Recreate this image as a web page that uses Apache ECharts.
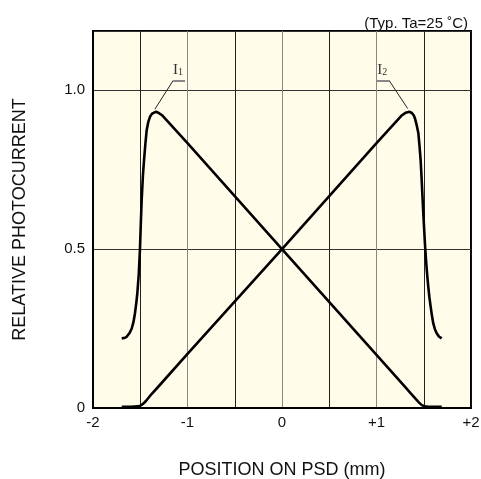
<!DOCTYPE html>
<html>
<head>
<meta charset="utf-8">
<script src="https://cdn.jsdelivr.net/npm/echarts@6/dist/echarts.min.js"></script>
<style>
html,body{margin:0;padding:0;background:#fff;}
#c{width:481px;height:479px;}
</style>
</head>
<body>
<div id="c"></div>
<script>
// ---- data ----
var xTickLabels = {'-2':'-2','-1':'-1','0':'0','1':'+1','2':'+2'};
var yTickLabels = {'0':'0','0.5':'0.5','1':'1.0'};

var i1X = [-1.696,-1.67,-1.644,-1.615,-1.59,-1.572,-1.556,-1.542,-1.531,-1.516,-1.503,-1.494,-1.485,-1.472,-1.46,-1.446,-1.432,-1.415,-1.397,-1.375,-1.355,-1.333,-1.31,-1.27,-1.0,0,1.0,1.3,1.36,1.41,1.45,1.48,1.51,1.55,1.69];
var i1Y = [0.219,0.220,0.224,0.235,0.25,0.27,0.298,0.33,0.361,0.42,0.5,0.58,0.654,0.73,0.78,0.83,0.874,0.90,0.916,0.926,0.931,0.932,0.929,0.921,0.833,0.5,0.167,0.067,0.047,0.03,0.017,0.009,0.005,0.004,0.004];

var i2X = [-1.696,-1.6,-1.53,-1.5,-1.47,-1.44,-1.41,-1.38,-1.3,-1.0,0,1.0,1.27,1.31,1.347,1.375,1.395,1.407,1.425,1.443,1.455,1.467,1.476,1.485,1.494,1.503,1.513,1.524,1.536,1.548,1.56,1.573,1.587,1.601,1.618,1.637,1.66,1.69];
var i2Y = [0.004,0.004,0.005,0.007,0.013,0.022,0.033,0.044,0.07,0.17,0.5,0.833,0.921,0.929,0.932,0.928,0.92,0.911,0.89,0.864,0.825,0.78,0.73,0.675,0.62,0.57,0.515,0.465,0.42,0.381,0.348,0.319,0.29,0.266,0.248,0.235,0.225,0.219];

// annotation positions (data units)
var labelI1 = [-1.10, 1.063];
var labelI2 = [1.061, 1.063];
var underlineI1 = [[-1.150, 1.031], [-1.026, 1.031]];
var underlineI2 = [[0.995, 1.031], [1.132, 1.031]];
var arrowI1 = [[-1.150, 1.031], [-1.345, 0.94]];
var arrowI2 = [[1.132, 1.031], [1.33, 0.942]];

function zip(xs, ys){ return xs.map(function(x,i){ return [x, ys[i]]; }); }

var chart = echarts.init(document.getElementById('c'), null, {renderer:'canvas'});
var font = 'Liberation Sans, Arial, Helvetica, sans-serif';
var serif = 'Liberation Serif, Times New Roman, serif';

function annot(pos, sub){
  return {
    coord: pos, symbol: 'circle', symbolSize: 1,
    itemStyle: {color: 'rgba(0,0,0,0)'},
    label: {show: true, position: 'inside', formatter: '{a|I}{b|' + sub + '}',
      rich: {a: {fontFamily: serif, fontSize: 15, color: '#333'},
             b: {fontFamily: serif, fontSize: 10, color: '#333', padding: [5,0,0,0]}}}
  };
}

chart.setOption({
  animation: false,
  backgroundColor: '#ffffff',
  grid: {left: 93, right: 10, top: 31, bottom: 71, show: true, containLabel: false,
         outerBoundsMode: 'none',
         backgroundColor: '#fffce9', borderColor: '#000', borderWidth: 2},
  title: {text: '(Typ. Ta=25 ˚C)', right: 8, top: 11,
          textStyle: {fontFamily: font, fontSize: 15, fontWeight: 'normal', color: '#111'}},
  xAxis: {
    type: 'value', min: -2, max: 2, interval: 0.5,
    name: 'POSITION ON PSD (mm)', nameLocation: 'middle', nameGap: 53,
    nameTextStyle: {fontFamily: font, fontSize: 18, color: '#111'},
    axisLine: {show: true, onZero: false, lineStyle: {color: '#000', width: 2}},
    axisTick: {show: false},
    splitLine: {show: true, lineStyle: {color: ['#111','#222','#888','#222','#888','#222','#888','#222','#111'], width: 1}},
    axisLabel: {fontFamily: font, fontSize: 15, color: '#111', margin: 7,
      formatter: function(v){ var k = String(v); return xTickLabels.hasOwnProperty(k) ? xTickLabels[k] : ''; }}
  },
  yAxis: {
    type: 'value', min: 0, max: 1.186, interval: 0.5,
    name: 'RELATIVE PHOTOCURRENT', nameLocation: 'middle', nameGap: 64,
    nameTextStyle: {fontFamily: font, fontSize: 18, color: '#111'},
    axisLine: {show: true, onZero: false, lineStyle: {color: '#000', width: 2}},
    axisTick: {show: false},
    splitLine: {show: true, lineStyle: {color: '#333', width: 1}},
    axisLabel: {fontFamily: font, fontSize: 15, color: '#111', margin: 8, showMaxLabel: false,
      formatter: function(v){ var k = String(v); return yTickLabels.hasOwnProperty(k) ? yTickLabels[k] : ''; }}
  },
  series: [
    {
      name: 'I1', type: 'line', data: zip(i1X, i1Y), showSymbol: false,
      smooth: false,
      lineStyle: {color: '#000', width: 2.6, join: 'round'}, z: 5,
      markLine: {
        silent: true, symbol: ['none', 'arrow'], symbolSize: [0, 7],
        label: {show: false},
        lineStyle: {color: '#222', width: 1, type: 'solid'},
        data: [
          [{coord: arrowI1[0]}, {coord: arrowI1[1]}],
          [{coord: arrowI2[0]}, {coord: arrowI2[1]}],
          [{coord: underlineI1[0], symbol: 'none', lineStyle: {color: '#888', width: 2}}, {coord: underlineI1[1], symbol: 'none'}],
          [{coord: underlineI2[0], symbol: 'none', lineStyle: {color: '#888', width: 2}}, {coord: underlineI2[1], symbol: 'none'}]
        ]
      },
      markPoint: {silent: true, data: [annot(labelI1, '1'), annot(labelI2, '2')]}
    },
    {
      name: 'I2', type: 'line', data: zip(i2X, i2Y), showSymbol: false,
      smooth: false,
      lineStyle: {color: '#000', width: 2.6, join: 'round'}, z: 5
    }
  ]
});
</script>
</body>
</html>
